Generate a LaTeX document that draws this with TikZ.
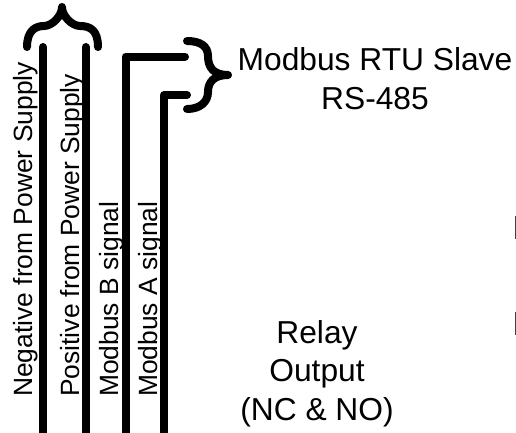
\documentclass[tikz,border=0pt]{standalone}
\usepackage{fontspec}
\setmainfont{Liberation Sans}
\tikzset{
  wire/.style={line width=6pt,line join=round,line cap=round},
  curly/.style={line width=6pt,line cap=round,line join=round},
  sidelabel/.style={rotate=90,anchor=base west,font=\fontsize{19.8}{24}\selectfont,inner sep=0pt},
  biglabel/.style={align=center,font=\fontsize{23.8}{29}\selectfont,inner sep=0pt},
}
\begin{document}
\begin{tikzpicture}[x=0.75pt,y=-0.75pt]
  \useasboundingbox (0,0) rectangle (516,432);
  % cuatro cables que bajan
  \coordinate (negtop) at (43,47);
  \coordinate (negend) at (43,438);
  \coordinate (postop) at (85.5,47);
  \coordinate (posend) at (85.5,438);
  \coordinate (btop) at (185,56.5);
  \coordinate (bcorner) at (125.5,56.5);
  \coordinate (bend) at (125.5,438);
  \coordinate (atop) at (187,95);
  \coordinate (acorner) at (164,95);
  \coordinate (aend) at (164,438);
  \draw[wire] (negtop)--(negend);
  \draw[wire] (postop)--(posend);
  \draw[wire] (btop)--(bcorner)--(bend);
  \draw[wire] (atop)--(acorner)--(aend);
  % llaves
  \draw[curly] (27,47) .. controls (27,30) and (36,26) .. (44,26)
    .. controls (52,26) and (62,16) .. (62,7)
    .. controls (62,16) and (72,26) .. (80,26)
    .. controls (90,26) and (98,30) .. (98,47);
  \draw[curly] (187,41) .. controls (200,41) and (208,46) .. (208,56)
    .. controls (208,68) and (214,75) .. (228,75)
    .. controls (214,75) and (208,82) .. (208,92)
    .. controls (208,102) and (200,109) .. (187,109);
  % etiquetas
  \node[sidelabel] (neglabel) at (32,397) {Negative from Power Supply};
  \node[sidelabel] (poslabel) at (79,397) {Positive from Power Supply};
  \node[sidelabel] (blabel) at (118,397) {Modbus B signal};
  \node[sidelabel] (alabel) at (157,397) {Modbus A signal};
  \node[biglabel] (slave) at (375,78.5) {Modbus RTU Slave\\RS-485};
  \node[biglabel] (relay) at (317,373.5) {Relay\\Output\\(NC \& NO)};
  % marcas en el borde derecho
  \fill[black!75] (515,216) rectangle (516,239);
  \fill[black!75] (515,312) rectangle (516,335);
\end{tikzpicture}
\end{document}
